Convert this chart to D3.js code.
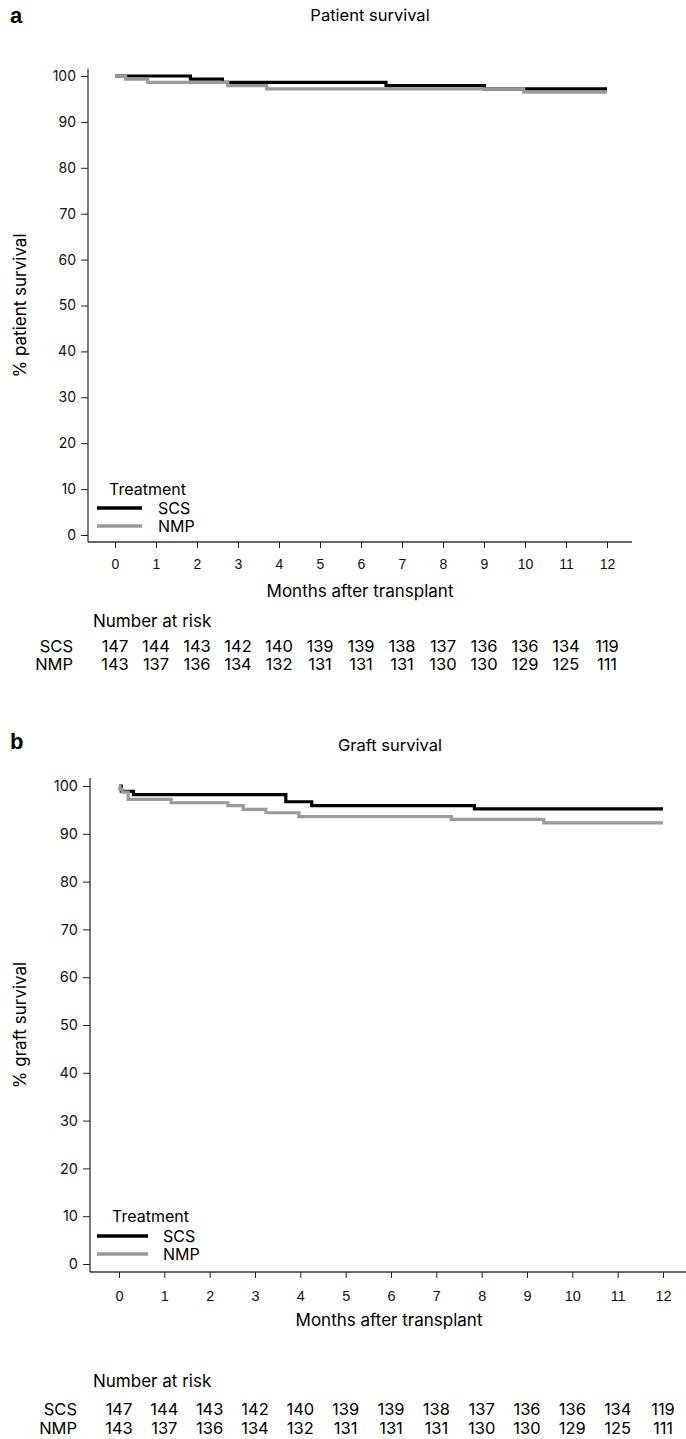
<!DOCTYPE html>
<html><head><meta charset="utf-8">
<script src="https://cdn.jsdelivr.net/npm/d3@7"></script>
<style>
body{margin:0;background:#fff;}
svg{display:block;font-family:Inter,"Open Sans",sans-serif;}
</style></head><body>
<svg id="c" width="686" height="1439"></svg>
<script>
// ---- data ----
const months = [0,1,2,3,4,5,6,7,8,9,10,11,12];
const groups = ["SCS","NMP"];
const yTicks = [0,10,20,30,40,50,60,70,80,90,100];
const endMonth = 12;

const patientSCS_t = [0,1.84,2.62,6.61,9.01];
const patientSCS_s = [100,99.3,98.6,97.9,97.2];
const patientNMP_t = [0,0.26,0.80,2.75,3.70,9.97];
const patientNMP_s = [100,99.3,98.6,97.9,97.2,96.5];

const graftSCS_t = [0,0.05,0.32,3.68,4.25,7.84];
const graftSCS_s = [100,98.9,98.2,96.7,95.9,95.2];
const graftNMP_t = [0,0.02,0.07,0.2,1.15,2.40,2.74,3.24,3.97,7.33,9.37];
const graftNMP_s = [100,99.3,98.7,97.2,96.5,95.9,95.1,94.4,93.6,93.0,92.3];

const riskSCS = [147,144,143,142,140,139,139,138,137,136,136,134,119];
const riskNMP = [143,137,136,134,132,131,131,131,130,130,129,125,111];

const colors = {SCS:"#000000", NMP:"#9a9a9a"};

// ---- layout ----
const panels = [
  {letter:"a", title:"Patient survival", ylab:"% patient survival",
   series:[[patientSCS_t,patientSCS_s],[patientNMP_t,patientNMP_s]],
   x0:115, x12:607, y100:76, y0:535, axisX:88, axisTop:69, axisY:542, axisRight:632,
   tickFont:14, letterY:15, titleX:370, titleY:15, tickLabY:564, monthsX:360, monthsY:591,
   riskHeadY:621, riskY:[646,664], rowLabX:73, headX:93,
   legX:97, legX2:142, legTextX:158, legTitleX:109, legY:489, legDy:[19,37], ylabX:20},
  {letter:"b", title:"Graft survival", ylab:"% graft survival",
   series:[[graftSCS_t,graftSCS_s],[graftNMP_t,graftNMP_s]],
   x0:119, x12:663, y100:786, y0:1264, axisX:90, axisTop:778, axisY:1272, axisRight:686,
   tickFont:14.5, letterY:741, titleX:390, titleY:745, tickLabY:1296, monthsX:389, monthsY:1320,
   riskHeadY:1381, riskY:[1409,1428], rowLabX:77, headX:93,
   legX:97, legX2:148, legTextX:163, legTitleX:112, legY:1216, legDy:[20,38], ylabX:20}
];

const svg = d3.select("#c");

panels.forEach(p => {
  const g = svg.append("g");
  const x = d3.scaleLinear().domain([0,12]).range([p.x0,p.x12]);
  const y = d3.scaleLinear().domain([0,100]).range([p.y0,p.y100]);

  // letter + title
  g.append("text").attr("x",10).attr("y",p.letterY).attr("dy","0.35em")
    .attr("font-family","'Liberation Sans',Arial,sans-serif").attr("font-weight",900)
    .attr("font-size",22).text(p.letter);
  g.append("text").attr("x",p.titleX).attr("y",p.titleY).attr("dy","0.35em")
    .attr("text-anchor","middle").attr("font-size",16.5).text(p.title);

  // y axis
  const ya = g.append("g").attr("transform",`translate(${p.axisX},0)`)
    .call(d3.axisLeft(y).tickValues(yTicks).tickSize(7).tickSizeOuter(0).tickPadding(5));
  ya.select(".domain").remove();
  ya.selectAll("line").attr("stroke","#222");
  ya.selectAll("text").attr("font-size",p.tickFont).attr("fill","#111")
    .attr("font-family","Inter,sans-serif");
  g.append("line").attr("x1",p.axisX).attr("x2",p.axisX).attr("y1",p.axisTop).attr("y2",p.axisY)
    .attr("stroke","#222").attr("stroke-width",1.2);

  // x axis
  const xa = g.append("g").attr("transform",`translate(0,${p.axisY})`)
    .call(d3.axisBottom(x).tickValues(months).tickSize(6).tickSizeOuter(0).tickPadding(0));
  xa.select(".domain").remove();
  xa.selectAll("line").attr("stroke","#222");
  xa.selectAll("text").attr("font-size",p.tickFont).attr("fill","#111")
    .attr("y",p.tickLabY-p.axisY).attr("dy","0.35em");
  g.append("line").attr("x1",p.axisX).attr("x2",p.axisRight).attr("y1",p.axisY).attr("y2",p.axisY)
    .attr("stroke","#333").attr("stroke-width",1.4);

  // axis titles
  g.append("text").attr("transform",`translate(${p.ylabX},${(p.y0+p.y100)/2}) rotate(-90)`)
    .attr("text-anchor","middle").attr("dy","0.35em").attr("font-size",17).text(p.ylab);
  g.append("text").attr("x",p.monthsX).attr("y",p.monthsY).attr("dy","0.35em")
    .attr("text-anchor","middle").attr("font-size",17).text("Months after transplant");

  // curves
  const line = d3.line().x(d=>x(d[0])).y(d=>y(d[1])).curve(d3.curveStepAfter);
  p.series.forEach((s,i) => {
    const pts = s[0].map((t,k)=>[t,s[1][k]]);
    pts.push([endMonth, s[1][s[1].length-1]]);
    g.append("path").attr("d",line(pts)).attr("fill","none")
      .attr("stroke",colors[groups[i]]).attr("stroke-width",3.2);
  });

  // legend
  g.append("text").attr("x",p.legTitleX).attr("y",p.legY).attr("dy","0.35em")
    .attr("font-size",16).text("Treatment");
  groups.forEach((gr,i) => {
    const yy = p.legY + p.legDy[i];
    g.append("line").attr("x1",p.legX).attr("x2",p.legX2).attr("y1",yy).attr("y2",yy)
      .attr("stroke",colors[gr]).attr("stroke-width",3.5);
    g.append("text").attr("x",p.legTextX).attr("y",yy).attr("dy","0.35em")
      .attr("font-size",16).text(gr);
  });

  // risk table
  g.append("text").attr("x",p.headX).attr("y",p.riskHeadY).attr("dy","0.35em")
    .attr("font-size",17).text("Number at risk");
  [riskSCS,riskNMP].forEach((row,i) => {
    g.append("text").attr("x",p.rowLabX).attr("y",p.riskY[i]).attr("dy","0.35em")
      .attr("text-anchor","end").attr("font-size",16.5).text(groups[i]);
    g.selectAll(null).data(row).join("text")
      .attr("x",(d,k)=>x(months[k])).attr("y",p.riskY[i]).attr("dy","0.35em")
      .attr("text-anchor","middle").attr("font-size",16.5).text(d=>d);
  });
});
</script>
</body></html>
